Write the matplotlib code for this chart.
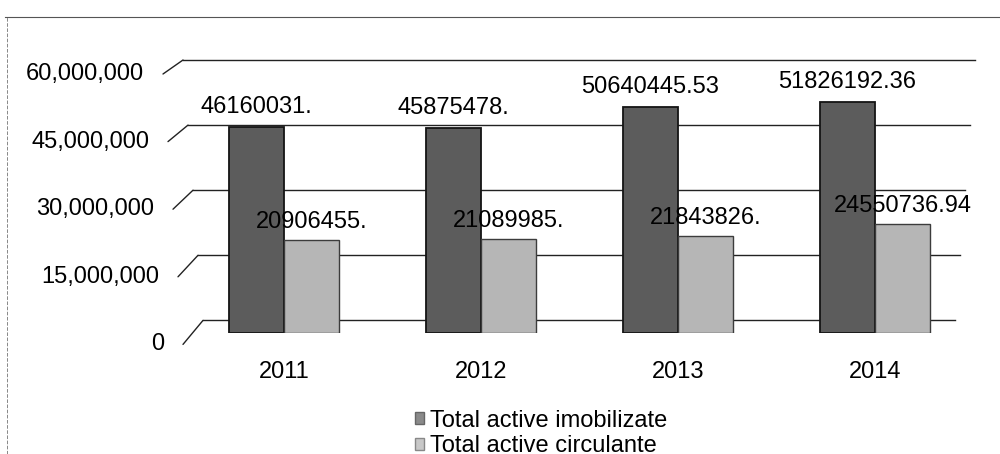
import numpy as np
import matplotlib
matplotlib.use("Agg")
import matplotlib.pyplot as plt
from matplotlib.patches import Patch
from matplotlib.lines import Line2D

plt.rcParams["font.family"] = ["Liberation Sans", "DejaVu Sans"]
plt.rcParams["font.size"] = 17

years = ["2011", "2012", "2013", "2014"]
imobilizate = [46160031.0, 45875478.0, 50640445.53, 51826192.36]
circulante = [20906455.0, 21089985.0, 21843826.0, 24550736.94]
imob_labels = ["46160031.", "45875478.", "50640445.53", "51826192.36"]
circ_labels = ["20906455.", "21089985.", "21843826.", "24550736.94"]
ticks = [0, 15000000, 30000000, 45000000, 60000000]
tick_labels = ["0", "15,000,000", "30,000,000", "45,000,000", "60,000,000"]

W, H = 1000, 454
fig = plt.figure(figsize=(W / 100, H / 100), dpi=100)

# --- back wall with gridlines (slightly higher than bar fronts, fake 3D) ---
wall = fig.add_axes([0, (H - 320.4) / H, 1, (320.4 - 60) / H])
wall.set_xlim(0, W)
wall.set_ylim(0, 60e6)
wall.axis("off")
n = len(ticks)
for k, (v, lab) in enumerate(zip(ticks, tick_labels)):
    j = n - 1 - k  # 0 for the top line
    x0 = 183 + 5 * j
    x1 = 975 - 5 * j
    dy = 14 + 2.5 * j
    wall.plot([x0, x1], [v, v], color="#222222", lw=1.0, clip_on=False)
    wall.annotate("", xy=(x0, v), xytext=(-20, -dy), textcoords="offset pixels",
                  arrowprops=dict(arrowstyle="-", color="#222222", lw=1.0,
                                  shrinkA=0, shrinkB=0), annotation_clip=False)
    wall.annotate(lab, xy=(x0, v), xytext=(-39, -dy), textcoords="offset pixels",
                  ha="right", va="center", color="black", annotation_clip=False)

# --- bars ---
ax = fig.add_axes([0, (H - 333) / H, 1, 267.6 / H])
ax.patch.set_alpha(0)
x = np.arange(len(years))
ax.set_xlim(-284 / 197, (W - 284) / 197)
ax.set_ylim(0, 60e6)
w = 0.28
ax.bar(x - w / 2, imobilizate, w, color="#5c5c5c", edgecolor="#141414", lw=1.3, zorder=3)
ax.bar(x + w / 2, circulante, w, color="#b6b6b6", edgecolor="#3c3c3c", lw=1.0, zorder=3)

for xi, v, lab in zip(x - w / 2, imobilizate, imob_labels):
    ax.annotate(lab, xy=(xi, v), xytext=(0, 20), textcoords="offset pixels",
                ha="center", va="center", color="black", zorder=5)
for xi, v, lab in zip(x + w / 2, circulante, circ_labels):
    ax.annotate(lab, xy=(xi, v), xytext=(0, 18), textcoords="offset pixels",
                ha="center", va="center", color="black", zorder=5)

ax.set_xticks(x)
ax.set_xticklabels(years)
ax.set_yticks([])
ax.tick_params(axis="x", length=0, pad=20, labelcolor="black")
for s in ax.spines.values():
    s.set_visible(False)

handles = [Patch(facecolor="#8a8a8a", edgecolor="#666666"),
           Patch(facecolor="#c8c8c8", edgecolor="#888888")]
fig.legend(handles, ["Total active imobilizate", "Total active circulante"],
           loc="upper left", bbox_to_anchor=(403 / W, (H - 398) / H), frameon=False,
           borderpad=0, handlelength=0.4, handleheight=0.4, handletextpad=0.25,
           labelspacing=0.15)

# scanned frame edges
fig.add_artist(Line2D([0.005, 1.0], [(H - 17) / H] * 2, color="#555555", lw=0.8))
fig.add_artist(Line2D([0.007, 0.007], [0, (H - 17) / H], color="#888888", lw=0.7, ls="--"))

fig.savefig("out.png", dpi=100)
